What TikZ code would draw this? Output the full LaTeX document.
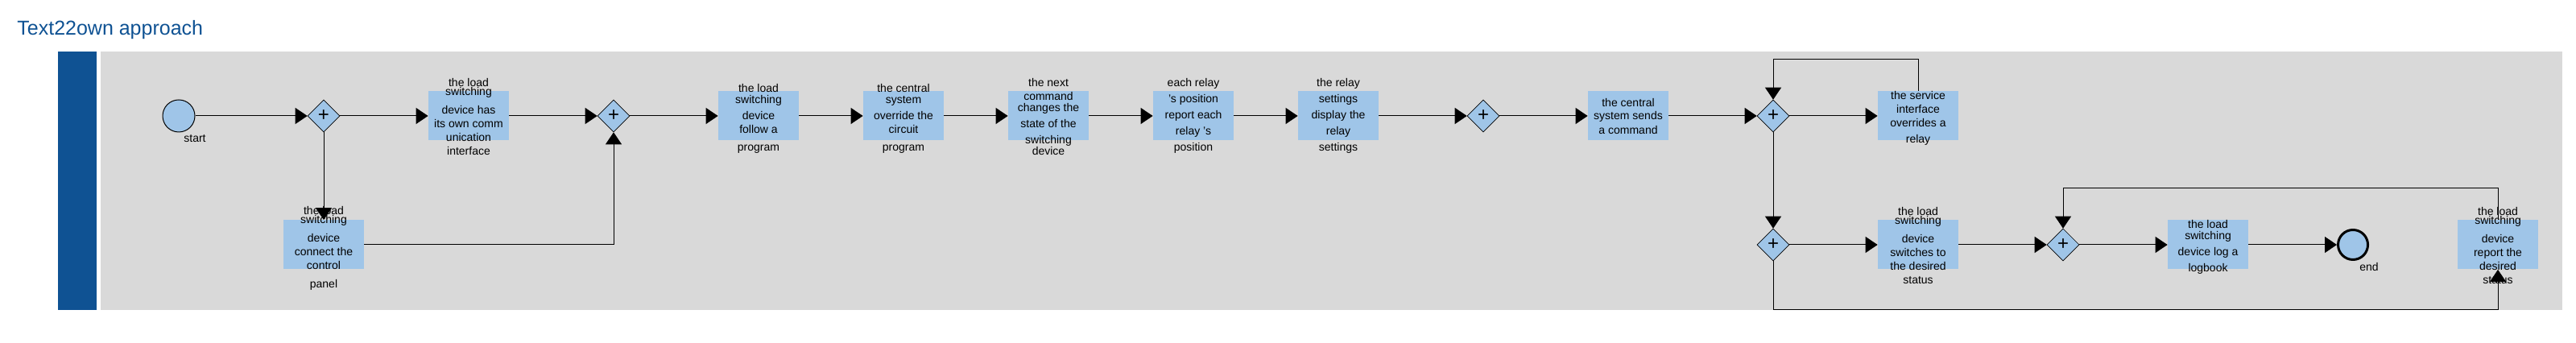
\documentclass[tikz,border=0pt]{standalone}
\usepackage{fontspec}
\setmainfont{Liberation Sans}
\usetikzlibrary{arrows.meta,positioning,shapes.geometric}
\definecolor{LaneBlue}{HTML}{0F5293}
\definecolor{PoolGray}{HTML}{D9D9D9}
\definecolor{TaskFill}{HTML}{9FC5E8}
\tikzset{
  task/.style={fill=TaskFill,minimum width=50pt,minimum height=30.5pt,inner sep=0pt},
  tasktext/.style={font=\fontsize{7}{8.5}\selectfont,align=center,inner sep=0pt,text=black},
  gateway/.style={diamond,draw=black,line width=0.3pt,fill=TaskFill,minimum width=20pt,minimum height=20pt,inner sep=0pt,font=\fontsize{12}{12}\selectfont},
  startev/.style={circle,draw=black,line width=0.5pt,fill=TaskFill,minimum size=20pt,inner sep=0pt},
  endev/.style={circle,draw=black,line width=1.5pt,fill=TaskFill,minimum size=18.5pt,inner sep=0pt},
  evlabel/.style={font=\fontsize{7}{8.5}\selectfont,xshift=10pt,yshift=-14pt,inner sep=0pt},
  flow/.style={-{Triangle[length=7.5pt,width=10pt]},draw=black,line width=0.5pt}
}

\begin{document}
\begin{tikzpicture}[node distance=90pt,on grid]
  \useasboundingbox (0,0) rectangle (1599.5pt,213pt);
  \fill[PoolGray] (62.5pt,20.5pt) rectangle (1591pt,181pt);
  \fill[LaneBlue] (36pt,20.5pt) rectangle (60pt,181pt);
  \node[anchor=base west,text=LaneBlue,font=\fontsize{12.5}{15}\selectfont,inner sep=0pt] (title) at (10.5pt,191pt) {Text22own approach};

  % upper row
  \node[startev,label={[evlabel]center:start}] (start) at (111pt,141pt) {};
  \node[gateway,right=of start] (g1) {+};
  \node[task,right=of g1,label={[tasktext,yshift=-0.75pt]center:the load\\[-3pt]switching\\[3pt]device has\\its own comm\\unication\\interface}] (comm) {};
  \node[gateway,right=of comm] (g2) {+};
  \node[task,right=of g2,label={[tasktext,yshift=-1.75pt]center:the load\\[-1.5pt]switching\\[1.5pt]device\\follow a\\[2.5pt]program}] (program) {};
  \node[task,right=of program,label={[tasktext,yshift=-1.75pt]center:the central\\[-1.5pt]system\\[1.5pt]override the\\circuit\\[2.5pt]program}] (override) {};
  \node[task,right=of override,label={[tasktext,yshift=-0.75pt]center:the next\\command\\[-1.5pt]changes the\\[1.5pt]state of the\\[1.5pt]switching\\[-1.5pt]device}] (command) {};
  \node[task,right=of command,label={[tasktext]center:each relay\\[1.5pt]'s position\\[1.5pt]report each\\[1.5pt]relay 's\\[1.5pt]position}] (position) {};
  \node[task,right=of position,label={[tasktext]center:the relay\\[1.5pt]settings\\[1.5pt]display the\\[1.5pt]relay\\[1.5pt]settings}] (settings) {};
  \node[gateway,right=of settings] (g3) {+};
  \node[task,right=of g3,label={[tasktext,yshift=-0.5pt]center:the central\\[-0.5pt]system sends\\[0.5pt]a command}] (sends) {};
  \node[gateway,right=of sends] (g4) {+};
  \node[task,right=of g4,label={[tasktext,yshift=-1.5pt]center:the service\\interface\\overrides a\\[1.5pt]relay}] (service) {};

  % lower row
  \node[task,below=80pt of g1,label={[tasktext,yshift=-2.25pt]center:the load\\[-3pt]switching\\[3pt]device\\connect the\\control\\[3pt]panel}] (panel) {};
  \node[gateway,below=80pt of g4] (g5) {+};
  \node[task,right=of g5,label={[tasktext,yshift=-0.75pt]center:the load\\[-3pt]switching\\[3pt]device\\switches to\\the desired\\status}] (status) {};
  \node[gateway,right=of status] (g6) {+};
  \node[task,right=of g6,label={[tasktext,yshift=-1.5pt]center:the load\\[-1.5pt]switching\\[1.5pt]device log a\\[1.5pt]logbook}] (logbook) {};
  \node[endev,right=of logbook,label={[evlabel]center:end}] (stop) {};
  \node[task,right=of stop,label={[tasktext,yshift=-0.75pt]center:the load\\[-3pt]switching\\[3pt]device\\report the\\desired\\status}] (report) {};

  \draw[flow] (start) -- (g1);
  \draw[flow] (g1) -- (comm);
  \draw[flow] (g1) -- (panel);
  \draw[flow] (comm) -- (g2);
  \draw[flow] (panel) -| (g2);
  \draw[flow] (g2) -- (program);
  \draw[flow] (program) -- (override);
  \draw[flow] (override) -- (command);
  \draw[flow] (command) -- (position);
  \draw[flow] (position) -- (settings);
  \draw[flow] (settings) -- (g3);
  \draw[flow] (g3) -- (sends);
  \draw[flow] (sends) -- (g4);
  \draw[flow] (g4) -- (service);
  \draw[flow] (service.north) -- ++(0,20pt) -| (g4.north);
  \draw[flow] (g4) -- (g5);
  \draw[flow] (g5) -- (status);
  \draw[flow] (g5.south) -- ++(0,-30pt) -| (report.south);
  \draw[flow] (status) -- (g6);
  \draw[flow] (g6) -- (logbook);
  \draw[flow] (logbook) -- (stop);
  \draw[flow] (report.north) -- ++(0,20pt) -| (g6.north);
\end{tikzpicture}
\end{document}
